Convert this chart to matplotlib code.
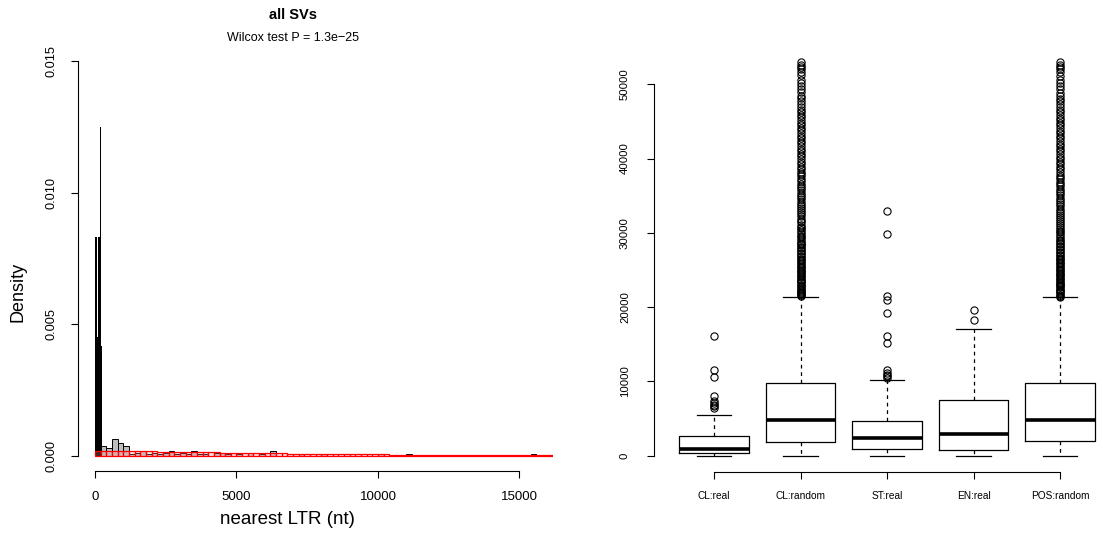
import matplotlib
matplotlib.use("Agg")
import matplotlib.pyplot as plt
import numpy as np

plt.rcParams['font.family'] = ['Liberation Sans', 'DejaVu Sans']

# ---------------- data: left panel (histograms of distance to nearest LTR) ----------------
title_main = "all SVs"
title_sub = "Wilcox test P = 1.3e\u221225"

black_breaks = [0, 75, 110, 160, 200, 240]
black_density = [0.00832, 0.00452, 0.00832, 0.0125, 0.00416]

gray_breaks = list(range(0, 16400, 200))
gray_density = [0.0, 0.00038, 0.00027, 0.00061, 0.00047, 0.00038, 0.00004, 0.00008, 0.00019, 0.00004,
                0.00008, 0.00004, 0.00008, 0.00019, 0.00004, 0.00008, 0.00004, 0.00019, 0.00004, 0.00004,
                0.0, 0.00008, 0.00008, 0.00004, 0.0, 0.00004, 0.0, 0.00008, 0.0, 0.00004,
                0.0, 0.00016, 0.0, 0.0, 0.0, 0.0, 0.00004, 0.0, 0.0, 0.0,
                0.00004, 0.0, 0.0, 0.0, 0.0, 0.0, 0.0, 0.0, 0.0, 0.0,
                0.00004, 0.0, 0.0, 0.0, 0.0, 0.00004, 0.0, 0.0, 0.0, 0.0,
                0.0, 0.0, 0.0, 0.0, 0.0, 0.0, 0.0, 0.0, 0.0, 0.0,
                0.0, 0.0, 0.0, 0.0, 0.0, 0.0, 0.0, 0.00004, 0.0, 0.0,
                0.0]

red_breaks = list(range(0, 16400, 200))
red_density = [0.00018, 0.00018, 0.00017, 0.00018, 0.00017, 0.00017, 0.00016, 0.00017, 0.00016, 0.00016,
               0.00016, 0.00015, 0.00015, 0.00014, 0.00014, 0.00014, 0.00013, 0.00013, 0.00013, 0.00012,
               0.00012, 0.00012, 0.00011, 0.00011, 0.00011, 0.00010, 0.00010, 0.00010, 0.00009, 0.00009,
               0.00009, 0.00008, 0.00008, 0.00008, 0.00007, 0.00007, 0.00007, 0.00006, 0.00006, 0.00006,
               0.00006, 0.00005, 0.00005, 0.00005, 0.00005, 0.00005, 0.00004, 0.00004, 0.00004, 0.00004,
               0.00004, 0.00004, 0.00003, 0.00003, 0.00003, 0.00003, 0.00003, 0.00003, 0.00003, 0.00003,
               0.00003, 0.00002, 0.00002, 0.00002, 0.00002, 0.00002, 0.00002, 0.00002, 0.00002, 0.00002,
               0.00002, 0.00002, 0.00002, 0.00002, 0.00002, 0.00002, 0.00002, 0.00002, 0.00002, 0.00002,
               0.00002]

left_xticks = [0, 5000, 10000, 15000]
left_yticks = [0.000, 0.005, 0.010, 0.015]
left_ytick_labels = ["0.000", "0.005", "0.010", "0.015"]
left_xlabel = "nearest LTR (nt)"
left_ylabel = "Density"

# ---------------- data: right panel (boxplots) ----------------
groups = ["CL:real", "CL:random", "ST:real", "EN:real", "POS:random"]
q1 = [400, 1900, 880, 730, 1950]
medians = [900, 4750, 2350, 2950, 4800]
q3 = [2650, 9750, 4650, 7500, 9750]
whisker_low = [0, 0, 0, 0, 0]
whisker_high = [5500, 21400, 10250, 17000, 21400]

out_cl_real = [6450, 6650, 6800, 7050, 7400, 8000, 10600, 11600, 16100]
out_cl_random = [21450, 21600, 21750, 21900, 22050, 22200, 22350, 22500, 22700, 22850,
                 23000, 23200, 23350, 23500, 23700, 23850, 24000, 24200, 24350, 24550,
                 24700, 24900, 25050, 25250, 25400, 25600, 25800, 25950, 26150, 26350,
                 26500, 26700, 26900, 27100, 27300, 27500, 27700, 27900, 28100, 28300,
                 28500, 28700, 28950, 29150, 29400, 29600, 29850, 30100, 30350, 30600,
                 30850, 31100, 31400, 31650, 31900, 32200, 32500, 32750, 33050, 33300,
                 33600, 33900, 34200, 34500, 34800, 35100, 35400, 35700, 36000, 36300,
                 36600, 36950, 37250, 37600, 37900, 38250, 38600, 38900, 39250, 39600,
                 39950, 40300, 40650, 41000, 41350, 41700, 42050, 42400, 42750, 43100,
                 43450, 43800, 44150, 44500, 44850, 45200, 45550, 45900, 46250, 46600,
                 47000, 47400, 47800, 48100, 48400, 48900, 49400, 49700, 50100, 50600,
                 51200, 51700, 52000, 52300, 52600, 53000]
out_st_real = [10500, 10700, 10900, 11200, 11600, 15200, 16100, 19200, 21000, 21500, 29900, 33000]
out_en_real = [18300, 19600]
out_pos_random = [21400, 21550, 21700, 21850, 22000, 22150, 22300, 22450, 22650, 22800,
                  22950, 23150, 23300, 23450, 23650, 23800, 23950, 24150, 24300, 24500,
                  24650, 24850, 25000, 25200, 25350, 25550, 25750, 25900, 26100, 26300,
                  26450, 26650, 26850, 27050, 27250, 27450, 27650, 27850, 28050, 28250,
                  28450, 28650, 28900, 29100, 29350, 29550, 29800, 30050, 30300, 30550,
                  30800, 31050, 31350, 31600, 31850, 32150, 32450, 32700, 33000, 33250,
                  33550, 33850, 34150, 34450, 34750, 35050, 35350, 35650, 35950, 36250,
                  36550, 36900, 37200, 37550, 37850, 38200, 38550, 38850, 39200, 39550,
                  39900, 40250, 40600, 40950, 41300, 41650, 42000, 42350, 42700, 43050,
                  43400, 43750, 44100, 44450, 44800, 45150, 45500, 45850, 46200, 46550,
                  46950, 47350, 47750, 48050, 48450, 48850, 49350, 49750, 50150, 50550,
                  51150, 51650, 52050, 52350, 52650, 53000]
outliers = [out_cl_real, out_cl_random, out_st_real, out_en_real, out_pos_random]
right_yticks = [0, 10000, 20000, 30000, 40000, 50000]

# ---------------- figure ----------------
W, H = 1103, 541
fig = plt.figure(figsize=(W / 100, H / 100), dpi=100)

def frac(l, t, r, b):
    return [l / W, 1 - b / H, (r - l) / W, (b - t) / H]

# ---- left panel ----
ax = fig.add_axes(frac(78, 45.3, 553, 471.3))
gb = np.array(gray_breaks, float)
ax.bar(gb[:-1], gray_density, width=np.diff(gb), align='edge', color='#BEBEBE',
       edgecolor='black', linewidth=0.7, zorder=2)
bb = np.array(black_breaks, float)
ax.bar(bb[:-1], black_density, width=np.diff(bb), align='edge', color='black',
       edgecolor='none', linewidth=0, antialiased=False, zorder=3)
rb = np.array(red_breaks, float)
ax.bar(rb[:-1], red_density, width=np.diff(rb), align='edge', color=(1, 0.6, 0.6, 0.25),
       edgecolor='red', linewidth=0.9, zorder=4)
ax.set_xlim(-600, 16184)
ax.set_ylim(-0.0006, 0.0156)
for s in ['top', 'right']:
    ax.spines[s].set_visible(False)
ax.spines['left'].set_bounds(0, 0.015)
ax.spines['bottom'].set_bounds(0, 15000)
ax.set_xticks(left_xticks)
ax.set_xticklabels([str(v) for v in left_xticks], fontsize=9.5)
ax.set_yticks(left_yticks)
ax.set_yticklabels(left_ytick_labels, fontsize=9.2, rotation=90, va='center')
ax.tick_params(direction='out', length=5, width=0.8)
ax.tick_params(axis='x', pad=9)
ax.tick_params(axis='y', pad=10)
fig.text(287 / W, 1 - 519 / H, left_xlabel, ha='center', va='center', fontsize=13.5)
fig.text(18 / W, 1 - 292 / H, left_ylabel, ha='center', va='center', fontsize=13, rotation=90)
fig.text(293 / W, 1 - 15 / H, title_main, ha='center', va='center', fontsize=10.5, fontweight='bold')
fig.text(293 / W, 1 - 38 / H, title_sub, ha='center', va='center', fontsize=9)

# ---- right panel ----
ax2 = fig.add_axes(frac(653.5, 46.2, 1120.6, 471.5))
stats = []
for i, g in enumerate(groups):
    stats.append(dict(label=g, q1=q1[i], med=medians[i], q3=q3[i],
                      whislo=whisker_low[i], whishi=whisker_high[i], fliers=outliers[i]))
ax2.bxp(stats, positions=range(1, len(groups) + 1), widths=0.8,
        boxprops=dict(color='black', linewidth=0.9),
        medianprops=dict(color='black', linewidth=2.6, solid_capstyle='butt'),
        whiskerprops=dict(color='black', linewidth=0.9, linestyle=(0, (3, 3))),
        capprops=dict(color='black', linewidth=0.9),
        capwidths=0.4,
        flierprops=dict(marker='o', markersize=5.2, markerfacecolor='none',
                        markeredgecolor='black', markeredgewidth=0.8, linestyle='none'))
ax2.set_xlim(0.3, 5.7)
ax2.set_ylim(-2120, 55120)
for s in ['top', 'right']:
    ax2.spines[s].set_visible(False)
ax2.spines['left'].set_bounds(0, 50000)
ax2.spines['bottom'].set_bounds(1, 5)
ax2.set_yticks(right_yticks)
ax2.set_yticklabels([str(v) for v in right_yticks], fontsize=8.2, rotation=90, va='center')
ax2.set_xticks(range(1, len(groups) + 1))
ax2.set_xticklabels(groups, fontsize=7.3)
ax2.tick_params(direction='out', length=5, width=0.8)
ax2.tick_params(axis='x', pad=9)
ax2.tick_params(axis='y', pad=12)

fig.savefig("out.png", dpi=100)
